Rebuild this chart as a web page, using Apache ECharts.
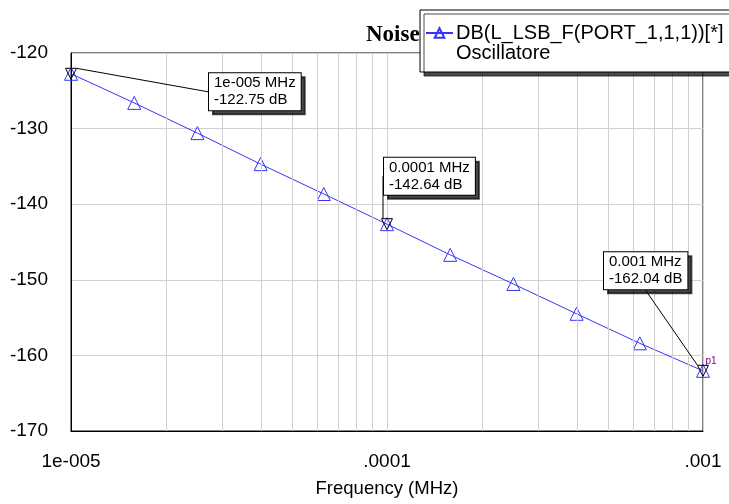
<!DOCTYPE html>
<html>
<head>
<meta charset="utf-8">
<script src="https://cdn.jsdelivr.net/npm/echarts@6/dist/echarts.min.js"></script>
<style>
  html, body { margin: 0; padding: 0; background: #fff; }
  #chart { width: 729px; height: 504px; }
</style>
</head>
<body>
<div id="chart"></div>
<script>
// frequency (MHz) of each marker on the trace
const freqs = [1e-5, 1.585e-5, 2.512e-5, 3.981e-5, 6.31e-5, 1e-4, 1.585e-4, 2.512e-4, 3.981e-4, 6.31e-4, 1e-3];
// noise (dB)
const noiseDb = [-122.75, -126.6, -130.6, -134.7, -138.65, -142.64, -146.7, -150.55, -154.5, -158.4, -162.04];

// annotated markers
const markFreqs = [1e-5, 1e-4, 1e-3];
const markDb = [-122.75, -142.64, -162.04];
const markText = ['1e-005 MHz\n-122.75 dB', '0.0001 MHz\n-142.64 dB', '0.001 MHz\n-162.04 dB'];

// axis ticks
const xTickValues = [1e-5, 1e-4, 1e-3];
const xTickLabels = ['1e-005', '.0001', '.001'];
const minorGridFreqs = [2e-5, 3e-5, 4e-5, 5e-5, 6e-5, 7e-5, 8e-5, 9e-5,
  2e-4, 3e-4, 4e-4, 5e-4, 6e-4, 7e-4, 8e-4, 9e-4];
const yMin = -170, yMax = -120;

const seriesName = 'DB(L_LSB_F(PORT_1,1,1))[*]';
const font = 'Liberation Sans';
const blue = '#3535f5';
// label offsets (px) from each marker
const labelShift = [[138, 18], [-3, -48], [-99, -100]];

var chart = echarts.init(document.getElementById('chart'));

var option = {
  animation: false,
  title: {
    text: 'Noise',
    left: 361,
    top: 19,
    textStyle: { fontFamily: 'Liberation Serif', fontWeight: 'bold', fontSize: 23, color: '#000' }
  },
  legend: {
    left: 420,
    top: 10,
    z: 10,
    orient: 'vertical',
    itemGap: 0,
    itemWidth: 27,
    itemHeight: 12,
    padding: [13, 40, 9, 5],
    backgroundColor: '#fff',
    borderColor: '#000',
    borderWidth: 1,
    shadowColor: 'rgba(0,0,0,0.7)',
    shadowOffsetX: 4,
    shadowOffsetY: 4,
    shadowBlur: 0,
    selectedMode: false,
    textStyle: { fontFamily: font, fontSize: 20, color: '#000', padding: [0, 0, 0, -2] },
    data: [seriesName, 'Oscillatore']
  },
  grid: {
    left: 71,
    right: 26,
    top: 53,
    bottom: 73,
    show: true,
    borderColor: '#000',
    borderWidth: 1
  },
  xAxis: {
    type: 'log',
    logBase: 10,
    min: 1e-5,
    max: 1e-3,
    name: 'Frequency (MHz)',
    nameLocation: 'middle',
    nameGap: 48,
    nameTextStyle: { fontFamily: font, fontSize: 18.5, color: '#000' },
    axisLine: { lineStyle: { color: '#000' } },
    axisTick: { show: false },
    splitLine: { show: true, lineStyle: { color: '#d0d0d0' } },
    axisLabel: {
      fontFamily: font,
      fontSize: 19,
      color: '#000',
      margin: 21,
      formatter: function (v) {
        for (var i = 0; i < xTickValues.length; i++) {
          if (Math.abs(Math.log10(v) - Math.log10(xTickValues[i])) < 1e-6) return xTickLabels[i];
        }
        return '';
      }
    }
  },
  yAxis: {
    type: 'value',
    min: yMin,
    max: yMax,
    interval: 10,
    axisLine: { show: true, lineStyle: { color: '#000' } },
    axisTick: { show: false },
    splitLine: { lineStyle: { color: '#d0d0d0' } },
    axisLabel: { fontFamily: font, fontSize: 19, color: '#000', margin: 23 }
  },
  series: [
    {
      name: seriesName,
      type: 'line',
      data: freqs.map(function (f, i) { return [f, noiseDb[i]]; }),
      symbol: 'triangle',
      symbolSize: 13,
      lineStyle: { color: blue, width: 1 },
      itemStyle: { color: 'rgba(255,255,255,0)', borderColor: blue, borderWidth: 1 },
      markLine: {
        silent: true,
        symbol: ['none', 'none'],
        label: { show: false },
        lineStyle: { color: '#d0d0d0', type: 'solid', width: 1 },
        data: minorGridFreqs.map(function (f) {
          return [{ coord: [f, yMin] }, { coord: [f, yMax] }];
        })
      },
      z: 3
    },
    {
      name: 'Oscillatore',
      type: 'line',
      data: [],
      symbol: 'none',
      lineStyle: { opacity: 0 },
      itemStyle: { opacity: 0 }
    },
    {
      name: 'markers',
      type: 'scatter',
      data: markFreqs.map(function (f, i) { return [f, markDb[i]]; }),
      symbol: 'triangle',
      symbolRotate: 180,
      symbolSize: 11,
      itemStyle: { color: 'rgba(255,255,255,0)', borderColor: '#000', borderWidth: 1, opacity: 1 },
      emphasis: { disabled: true },
      label: {
        show: true,
        position: 'inside',
        formatter: function (p) { return markText[p.dataIndex]; },
        fontFamily: font,
        fontSize: 15,
        lineHeight: 17,
        color: '#000',
        align: 'left',
        backgroundColor: '#fff',
        borderColor: '#000',
        borderWidth: 1,
        padding: [2, 5, 1, 5],
        shadowColor: 'rgba(0,0,0,0.7)',
        shadowOffsetX: 4,
        shadowOffsetY: 4,
        shadowBlur: 0
      },
      labelLine: { show: true, lineStyle: { color: '#000', width: 1 } },
      labelLayout: function (params) {
        var s = labelShift[params.dataIndex];
        return { dx: s[0], dy: s[1] };
      },
      markPoint: {
        symbol: 'circle',
        symbolSize: 0,
        label: { show: true, formatter: 'p1', color: '#800080', fontSize: 10, fontFamily: font, offset: [8, -10] },
        data: [{ coord: [markFreqs[2], markDb[2]] }]
      },
      z: 5
    }
  ]
};

option && chart.setOption(option);
</script>
</body>
</html>
